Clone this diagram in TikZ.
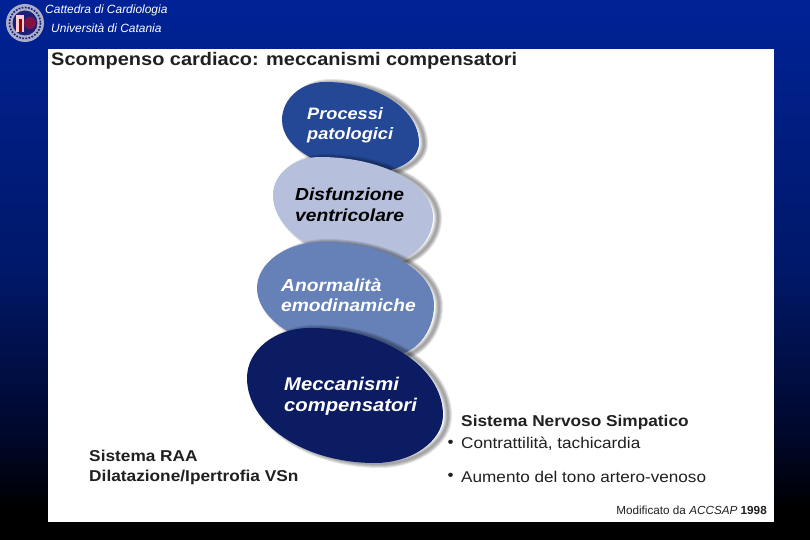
\documentclass[tikz,border=0pt]{standalone}
\usepackage{fontspec}
\usetikzlibrary{positioning}
\setmainfont{Liberation Sans}
\newfontfamily\widefont[FakeStretch=1.1]{Liberation Sans}
\definecolor{bgtop}{RGB}{0,34,150}
\definecolor{bgmid}{RGB}{0,24,105}
\definecolor{bglow}{RGB}{0,8,45}
\definecolor{blobone}{RGB}{36,72,150}
\definecolor{blobtwo}{RGB}{182,192,220}
\definecolor{blobthree}{RGB}{102,128,184}
\definecolor{blobfour}{RGB}{12,28,98}
\definecolor{inkgray}{RGB}{32,32,32}
\definecolor{sealring}{RGB}{170,175,200}
\definecolor{sealblue}{RGB}{30,30,120}
\tikzset{
  panellabel/.style={anchor=west,inner sep=0pt,align=left,text=inkgray,font=\widefont\bfseries\fontsize{13.4}{17}\selectfont},
  bloblabel/.style={anchor=west,inner sep=0pt,align=left,font=\widefont\bfseries\itshape\fontsize{#1}{17.5}\selectfont},
  bulletlabel/.style={anchor=west,inner sep=0pt,text=inkgray,font=\widefont\fontsize{13.3}{15}\selectfont},
  headlabel/.style={anchor=west,inner sep=0pt,text=white,font=\itshape\fontsize{10.2}{11}\selectfont}
}
% blob: outline, colour
\newcommand{\blob}[2]{
  \foreach \grow in {2,4,...,8}{
    \draw[black,opacity=0.1,line width=\grow*0.85pt,shift={(5,1)}] #1;
  }
  \fill[#2] #1;
}
\begin{document}
\begin{tikzpicture}[x=0.03cm,y=-0.03cm]
  \useasboundingbox (0,0) rectangle (810,540);
  % background and panel
  \fill[top color=bgtop,bottom color=bgmid] (0,0) rectangle (810,270);
  \fill[top color=bgmid,bottom color=bglow] (0,270) rectangle (810,430);
  \fill[top color=bglow,bottom color=black] (0,430) rectangle (810,510);
  \fill[black] (0,510) rectangle (810,540);
  \fill[white] (48,49) rectangle (774,522);
  % logo
  \fill[sealring] (25,23) circle (19);
  \draw[sealblue,line width=1.4pt,dash pattern=on 1.5pt off 1.2pt] (25,23) circle (15.5);
  \fill[sealblue] (25,23) circle (12.5);
  \fill[red!45!sealblue] (30,23) circle (6);
  \fill[white!80!red] (16,15) rectangle (24,32);
  \fill[red!60!black] (18.5,19) rectangle (21.5,32);
  % blobs
  \blob{(282,120) .. controls (282,99) and (301,82) .. (325,82) .. controls (377,82) and (419,109) .. (419,143) .. controls (419,159) and (399,172) .. (375,172) .. controls (324,172) and (282,149) .. (282,120) -- cycle}{blobone}
  \blob{(273,195) .. controls (273,174) and (294,157) .. (320,157) .. controls (382,157) and (433,184) .. (433,217) .. controls (433,241) and (411,263) .. (385,263) .. controls (323,263) and (273,232) .. (273,195) -- cycle}{blobtwo}
  \blob{(257,288) .. controls (257,263) and (286,242) .. (322,242) .. controls (384,242) and (434,270) .. (434,305) .. controls (434,333) and (414,356) .. (390,356) .. controls (316,356) and (257,325) .. (257,288) -- cycle}{blobthree}
  \blob{(247,378) .. controls (247,350) and (275,328) .. (310,328) .. controls (383,328) and (443,367) .. (443,415) .. controls (443,441) and (412,463) .. (375,463) .. controls (305,463) and (247,425) .. (247,378) -- cycle}{blobfour}
  % texts
  \node[headlabel] (cattedra) at (45,10) {Cattedra di Cardiologia};
  \node[headlabel] (ateneo) at (51,28) {Università di Catania};
  \node[panellabel,font=\widefont\bfseries\fontsize{15.5}{17}\selectfont] (title) at (51,61) {Scompenso cardiaco: meccanismi compensatori};
  \node[bloblabel=14.1,text=white] (processi) at (307,125) {Processi\\patologici};
  \node[bloblabel=14.9,text=black] (disfunzione) at (295,205) {Disfunzione\\ventricolare};
  \node[bloblabel=14.9,text=white] (anormalita) at (281,295) {Anormalità\\emodinamiche};
  \node[bloblabel=15.7,text=white] (meccanismi) at (284,396) {Meccanismi\\compensatori};
  \node[panellabel] (raa) at (89,467) {Sistema RAA\\Dilatazione/Ipertrofia VSn};
  \node[panellabel] (simpatico) at (461,422) {Sistema Nervoso Simpatico};
  \node[bulletlabel] (contrattilita) at (461,444) {Contrattilità, tachicardia};
  \node[bulletlabel] (aumento) at (461,477) {Aumento del tono artero-venoso};
  \node[bulletlabel,left=6pt of contrattilita] (puntouno) {•};
  \node[bulletlabel,left=6pt of aumento] (puntodue) {•};
  \node[anchor=east,inner sep=0pt,text=inkgray,font=\fontsize{10}{10}\selectfont] (fonte) at (767,510) {Modificato da \textit{ACCSAP} \textbf{1998}};
\end{tikzpicture}
\end{document}
